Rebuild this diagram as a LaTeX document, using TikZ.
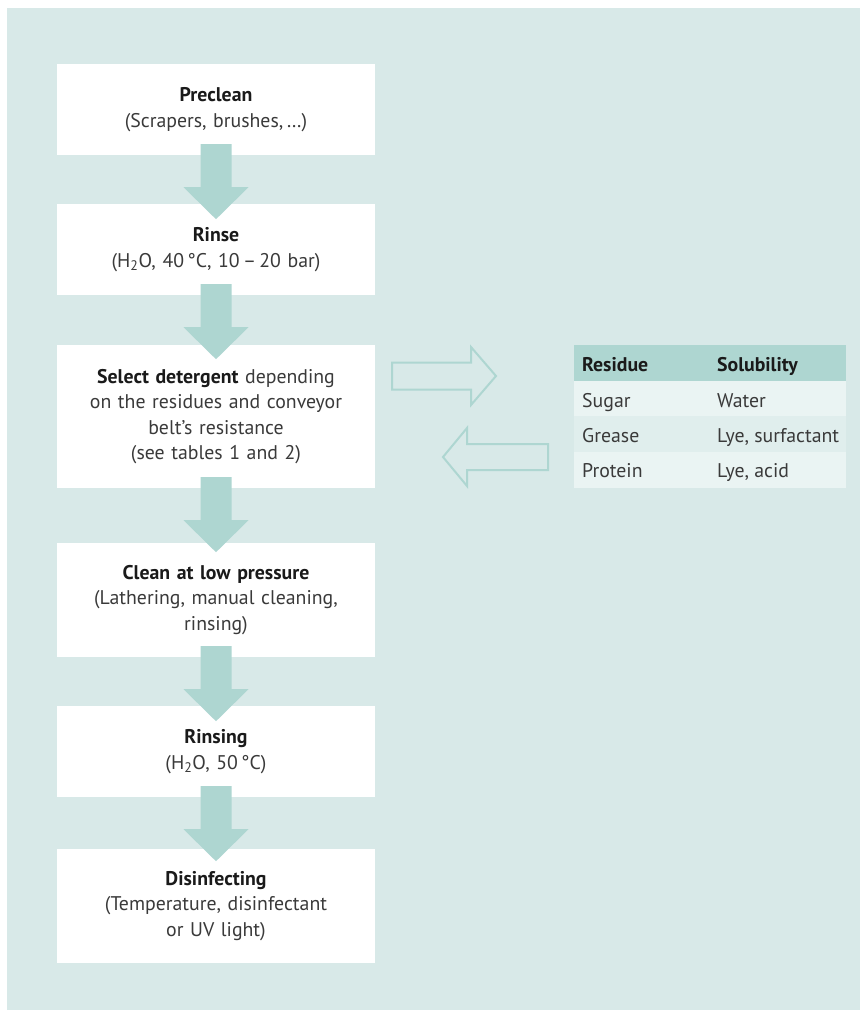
\documentclass[tikz,border=0pt]{standalone}
\usepackage{fontspec}
\setmainfont{PT Sans}
\usetikzlibrary{calc}
\definecolor{bgteal}{HTML}{D8E9E8}
\definecolor{arrteal}{HTML}{AED6D1}
\definecolor{rowlight}{HTML}{EAF4F3}
\definecolor{rowdark}{HTML}{E0EEED}
\definecolor{titlecol}{HTML}{1A1A1A}
\definecolor{bodycol}{HTML}{3A3A3A}
\newcommand\ttl[1]{{\bfseries\color{titlecol}#1}}
\newcommand\flowarrow[2]{%
  \fill[arrteal] ($(#1.south)+(-15.5,-11)$) -- ($(#1.south)+(15.5,-11)$)
    -- ($(#1.south)+(15.5,32)$) -- ($(#1.south)+(32.5,32)$)
    -- ($(#1.south)+(0,64)$)
    -- ($(#1.south)+(-32.5,32)$) -- ($(#1.south)+(-15.5,32)$) -- cycle;}
\begin{document}
\begin{tikzpicture}[x=1pt,y=-1pt,
  stepbox/.style={fill=white, minimum width=318pt, text width=310pt, align=center,
    inner sep=0pt, text=bodycol, font=\fontsize{19.8}{25.5}\selectfont},
  cell/.style={anchor=base west, inner sep=0pt, text=bodycol, font=\fontsize{19.8}{22}\selectfont},
  hcell/.style={cell, text=titlecol, font=\fontsize{19.8}{22}\selectfont\bfseries},
  hollow/.style={draw=arrteal, line width=2pt, line join=miter}]
\useasboundingbox (0,0) rectangle (860,1010);
\fill[bgteal] (7,8) rectangle (860,1010);

\node[stepbox, minimum height=91pt] (b1) at (216,109.5)
  {\ttl{Preclean}\\(Scrapers, brushes,\,…)};
\node[stepbox, minimum height=91pt] (b2) at (216,249.5)
  {\ttl{Rinse}\\(H\textsubscript{2}O, 40\,°C, 10\,–\,20 bar)};
\node[stepbox, minimum height=143pt] (b3) at (216,416.5)
  {\ttl{Select detergent} depending\\on the residues and conveyor\\belt’s resistance\\(see tables 1 and 2)};
\node[stepbox, minimum height=114pt] (b4) at (216,600)
  {\ttl{Clean at low pressure}\\(Lathering, manual cleaning,\\rinsing)};
\node[stepbox, minimum height=91pt] (b5) at (216,751.5)
  {\ttl{Rinsing}\\(H\textsubscript{2}O, 50\,°C)};
\node[stepbox, minimum height=114pt] (b6) at (216,906)
  {\ttl{Disinfecting}\\(Temperature, disinfectant\\or UV light)};

\flowarrow{b1}{b2}
\flowarrow{b2}{b3}
\flowarrow{b3}{b4}
\flowarrow{b4}{b5}
\flowarrow{b5}{b6}

% table
\node[fill=arrteal, minimum width=272pt, minimum height=36pt, inner sep=0pt, anchor=north west] (th) at (574,345) {};
\node[fill=rowlight, minimum width=272pt, minimum height=35pt, inner sep=0pt, anchor=north west] (r1) at (574,381) {};
\node[fill=rowdark, minimum width=272pt, minimum height=36pt, inner sep=0pt, anchor=north west] (r2) at (574,416) {};
\node[fill=rowlight, minimum width=272pt, minimum height=36pt, inner sep=0pt, anchor=north west] (r3) at (574,452) {};
\node[hcell] (h1) at (582,371) {Residue};
\node[hcell] (h2) at (717,371) {Solubility};
\node[cell] (c11) at (582,407) {Sugar};
\node[cell] (c12) at (717,407) {Water};
\node[cell] (c21) at (582,442) {Grease};
\node[cell] (c22) at (717,442) {Lye, surfactant};
\node[cell] (c31) at (582,477.5) {Protein};
\node[cell] (c32) at (717,477.5) {Lye, acid};

% hollow arrows
\draw[hollow] (392,362.5) -- (471,362.5) -- (471,347) -- (496,376) -- (471,405) -- (471,389.5) -- (392,389.5) -- cycle;
\draw[hollow] (548,444) -- (467,444) -- (467,428) -- (443,457) -- (467,486) -- (467,470) -- (548,470) -- cycle;
\end{tikzpicture}
\end{document}
